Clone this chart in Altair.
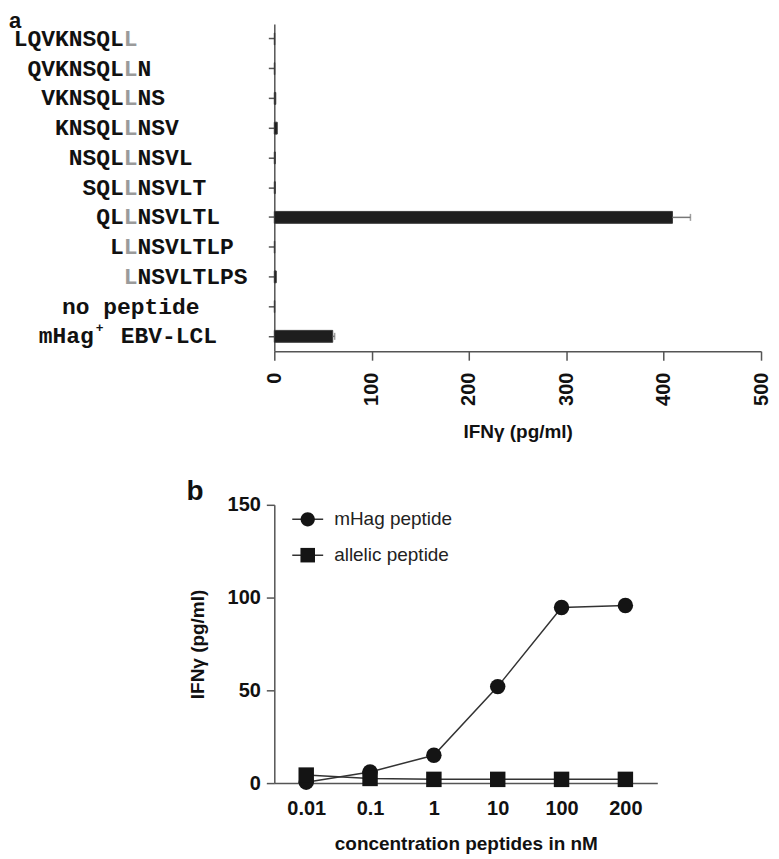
import altair as alt
import pandas as pd

# ---------------- panel a data ----------------
peptides = ["LQVKNSQLL", "QVKNSQLLN", "VKNSQLLNS", "KNSQLLNSV", "NSQLLNSVL",
            "SQLLNSVLT", "QLLNSVLTL", "LLNSVLTLP", "LNSVLTLPS"]
variant_pos = [8, 7, 6, 5, 4, 3, 2, 1, 0]          # polymorphic residue (grey L)
controls = ["no peptide", "mHag+ EBV-LCL"]
row_labels = peptides + controls
ifn_a = [0.5, 0.5, 1.5, 3, 1, 1, 409, 0.5, 2, 0.5, 60]
ifn_a_upper = [None, None, None, None, None, None, 427.5, None, None, None, 62]
x_ticks_a = [0, 100, 200, 300, 400, 500]

# ---------------- panel b data ----------------
conc_labels = ["0.01", "0.1", "1", "10", "100", "200"]
mhag_vals = [0.5, 6, 15, 52, 94.6, 95.7]
allelic_vals = [4.3, 2.5, 2, 2, 2, 2]
series_names = ["mHag peptide", "allelic peptide"]
y_ticks_b = [0, 50, 100, 150]

SANS = "Liberation Sans"
MONO = "Liberation Mono"
AX = "#555555"
INK = "#111111"

# ---------------- panel a ----------------
rec = []
for i, lab in enumerate(row_labels):
    rec.append({"label": lab, "value": ifn_a[i], "upper": ifn_a_upper[i]})
bars_df = pd.DataFrame(rec)

pep_rec = []
for p, pos in zip(peptides, variant_pos):
    pep_rec.append({"label": p, "prefix": p[:pos], "mid": p[pos], "suffix": p[pos + 1:]})
pep_df = pd.DataFrame(pep_rec)
err_df = bars_df.dropna()
one = pd.DataFrame({"k": [0]})

y_a = alt.Y("label:N", sort=row_labels,
            scale=alt.Scale(paddingInner=0.6, paddingOuter=0.3),
            axis=alt.Axis(labels=False, title=None, tickSize=6, tickColor=AX,
                          tickWidth=1.5, domainColor=AX, domainWidth=1.5))
x_a = alt.X("value:Q", scale=alt.Scale(domain=[0, 500], nice=False),
            axis=alt.Axis(values=x_ticks_a, labelAngle=270, labelFontSize=20,
                          labelFont=SANS, labelFontWeight="bold", labelColor=INK,
                          labelPadding=12, labelFlush=False, labelOverlap=False,
                          tickSize=9, tickColor=AX, tickWidth=1.5,
                          domainColor=AX, domainWidth=1.5, grid=False,
                          title="IFNγ (pg/ml)", titleFont=SANS, titleFontSize=19,
                          titleFontWeight="bold", titleColor=INK, titlePadding=17))

bars = alt.Chart(bars_df).mark_bar(color="#1e1e1e", stroke="#3a3a3a", strokeWidth=1).encode(
    x=x_a, y=y_a)
err_rule = alt.Chart(err_df).mark_rule(color="#777777", strokeWidth=1.5).encode(
    x="value:Q", x2="upper:Q", y=y_a)
err_cap = alt.Chart(err_df).mark_tick(color="#777777", thickness=1.5, size=7).encode(
    x="upper:Q", y=y_a)

COL = -144   # column of the polymorphic residue, left of the plot
HALF = 6.9
txt = dict(font=MONO, fontSize=23, fontWeight="bold", baseline="middle")
pre = alt.Chart(pep_df).mark_text(align="right", dx=-HALF, color=INK, **txt).encode(
    y=y_a, x=alt.value(COL), text="prefix:N")
mid = alt.Chart(pep_df).mark_text(align="center", color="#9a9a9a", **txt).encode(
    y=y_a, x=alt.value(COL), text="mid:N")
suf = alt.Chart(pep_df).mark_text(align="left", dx=HALF, color=INK, **txt).encode(
    y=y_a, x=alt.value(COL), text="suffix:N")

nopep_df = pd.DataFrame({"label": [controls[0]], "t": [controls[0]]})
nopep = alt.Chart(nopep_df).mark_text(align="center", color=INK, **txt).encode(
    y=y_a, x=alt.value(COL), text="t:N")
mh_df = pd.DataFrame({"label": [controls[1]], "a": ["mHag"], "b": ["+"], "c": ["EBV-LCL"]})
mh1 = alt.Chart(mh_df).mark_text(align="right", dx=-37, color=INK, **txt).encode(
    y=y_a, x=alt.value(COL), text="a:N")
mh2 = alt.Chart(mh_df).mark_text(align="center", dx=-31, dy=-8, color=INK, font=MONO,
                                 fontSize=13, fontWeight="bold", baseline="middle").encode(
    y=y_a, x=alt.value(COL), text="b:N")
mh3 = alt.Chart(mh_df).mark_text(align="left", dx=-10, color=INK, **txt).encode(
    y=y_a, x=alt.value(COL), text="c:N")

tag_a = alt.Chart(one).mark_text(text="a", align="left", baseline="top", font=SANS,
                                 fontSize=22, fontWeight="bold", color=INK).encode(
    x=alt.value(-266), y=alt.value(-13))
frame_a = alt.Chart(one).mark_rule(opacity=0, strokeWidth=0).encode(
    x=alt.value(-267), y=alt.value(-15), y2=alt.value(455))

panel_a = alt.layer(frame_a, bars, err_rule, err_cap, pre, mid, suf, nopep,
                    mh1, mh2, mh3, tag_a).properties(width=488, height=328)

# ---------------- panel b ----------------
brec = []
for name, vals in zip(series_names, [mhag_vals, allelic_vals]):
    for c, v in zip(conc_labels, vals):
        brec.append({"conc": c, "ifn": v, "series": name})
b_df = pd.DataFrame(brec)

x_b = alt.X("conc:O", sort=conc_labels, scale=alt.Scale(type="point", padding=0.5),
            axis=alt.Axis(ticks=False, labelAngle=0, labelFontSize=20, labelFont=SANS,
                          labelFontWeight="bold", labelColor=INK, labelPadding=16,
                          domainColor=AX, domainWidth=1.5,
                          title="concentration peptides in nM", titleFont=SANS,
                          titleFontSize=19, titleFontWeight="bold", titleColor=INK,
                          titlePadding=16))
y_b = alt.Y("ifn:Q", scale=alt.Scale(domain=[0, 150], nice=False),
            axis=alt.Axis(values=y_ticks_b, tickSize=8, tickColor=AX, tickWidth=1.5,
                          domainColor=AX, domainWidth=1.5, grid=False,
                          labelFontSize=20, labelFont=SANS, labelFontWeight="bold",
                          labelColor=INK, labelPadding=6,
                          title="IFNγ (pg/ml)", titleFont=SANS, titleFontSize=19,
                          titleFontWeight="bold", titleColor=INK, titlePadding=20))

lines = alt.Chart(b_df).mark_line(color="#333333", strokeWidth=1.5).encode(
    x=x_b, y=y_b, detail="series:N")

points = alt.Chart(b_df).mark_point(filled=True, opacity=1, color="#141414", size=240).encode(
    x=x_b, y=y_b,
    shape=alt.Shape("series:N", sort=series_names,
                    scale=alt.Scale(domain=series_names, range=["circle", "square"]),
                    legend=None))

LEG = dict(orient="none", legendX=17, legendY=-2, symbolSize=961, labelFont=SANS,
           labelFontSize=19, labelOffset=10, rowPadding=9, padding=0, symbolOpacity=1)

# legend part 1: the short line through each legend marker
legend_lines = alt.Chart(b_df).transform_filter("false").transform_calculate(
    s2="datum.series").mark_line(color="#333333", strokeWidth=1.5).encode(
    x=x_b, y=y_b,
    strokeDash=alt.StrokeDash("s2:N", sort=series_names,
                              scale=alt.Scale(domain=series_names, range=[[1, 0], [1, 0]]),
                              legend=alt.Legend(title=None, symbolType="stroke",
                                                symbolStrokeColor="#333333",
                                                symbolStrokeWidth=1.5,
                                                labelColor="transparent", **LEG)))

# legend part 2: the markers themselves
circle_path = "M0.46,0A0.46,0.46 0 1,1 -0.46,0A0.46,0.46 0 1,1 0.46,0Z"
square_path = "M-0.47,-0.47H0.47V0.47H-0.47Z"
legend_marks = alt.Chart(b_df).transform_filter("false").mark_point(
    filled=True, opacity=1, color="#141414").encode(
    x=x_b, y=y_b,
    shape=alt.Shape("series:N", sort=series_names,
                    scale=alt.Scale(domain=series_names, range=[circle_path, square_path]),
                    legend=alt.Legend(title=None, symbolFillColor="#141414",
                                      labelColor="#222222", **LEG)))

tag_b = alt.Chart(one).mark_text(text="b", align="left", baseline="top", font=SANS,
                                 fontSize=28, fontWeight="bold", color=INK).encode(
    x=alt.value(-88), y=alt.value(-27))
frame_b = alt.Chart(one).mark_rule(opacity=0, strokeWidth=0).encode(
    x=alt.value(-263), y=alt.value(-27), y2=alt.value(0))

panel_b = alt.layer(frame_b, lines, points, legend_lines, legend_marks, tag_b).resolve_scale(
    shape="independent", strokeDash="independent").properties(width=384, height=279)

chart = alt.vconcat(panel_a, panel_b, spacing=0).resolve_scale(
    strokeDash="independent", shape="independent").resolve_legend(
    strokeDash="independent", shape="independent").properties(padding=0).configure_view(
    strokeWidth=0)

chart.save("out.html", embed_options={"renderer": "svg", "actions": False})
